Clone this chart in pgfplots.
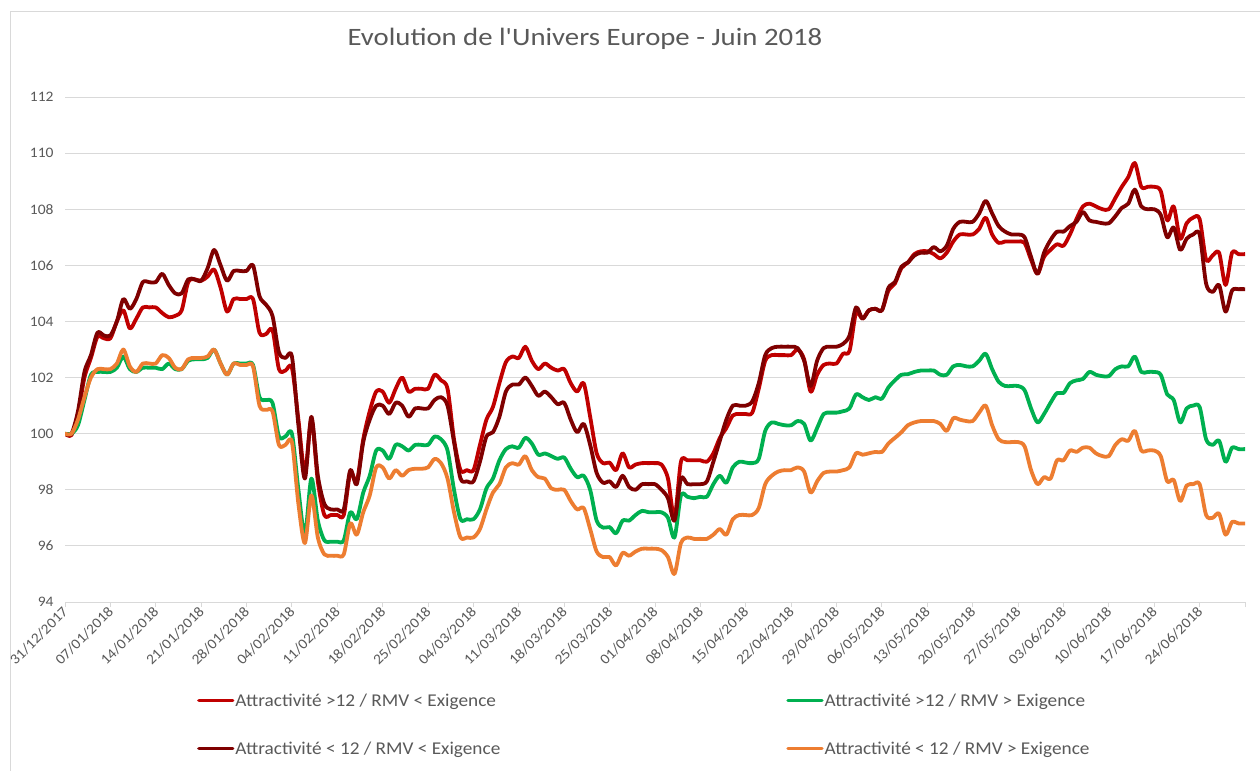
\documentclass[border=0pt]{standalone}
\usepackage{pgfplots}
\pgfplotsset{compat=1.18}
\usepackage{pgfplotstable}
\usepackage{fontspec}
\setmainfont{Carlito}
\newfontfamily\titfont{Carlito}[FakeStretch=1.15]
\newfontfamily\legfont{Carlito}[FakeStretch=1.07]
\definecolor{cR}{HTML}{C00000}
\definecolor{cG}{HTML}{00B050}
\definecolor{cD}{HTML}{7F0000}
\definecolor{cO}{HTML}{ED7D31}
\definecolor{txt}{HTML}{595959}
\definecolor{grd}{HTML}{D9D9D9}

\pgfplotstableread{
d R G D O
0 100 100 100 100
1 99.95 100 100 100
2 100.7 100.3 100.8 100.5
3 102.0 101.2 102.2 101.3
4 102.7 102.1 102.8 102.0
5 103.45 102.2 103.6 102.3
6 103.4 102.2 103.5 102.3
7 103.4 102.2 103.5 102.3
8 104.0 102.35 104.0 102.5
9 104.4 102.75 104.8 103.0
10 103.75 102.3 104.45 102.4
11 104.1 102.2 104.8 102.2
12 104.5 102.35 105.4 102.5
13 104.5 102.35 105.4 102.5
14 104.5 102.35 105.4 102.5
15 104.3 102.3 105.7 102.8
16 104.15 102.5 105.3 102.7
17 104.2 102.3 105.0 102.35
18 104.4 102.3 105.0 102.3
19 105.4 102.6 105.5 102.65
20 105.5 102.65 105.5 102.7
21 105.45 102.65 105.45 102.7
22 105.6 102.7 105.9 102.75
23 105.85 103.0 106.55 103.0
24 105.2 102.5 106.0 102.5
25 104.35 102.1 105.45 102.1
26 104.8 102.5 105.8 102.5
27 104.8 102.5 105.8 102.45
28 104.8 102.5 105.8 102.45
29 104.8 102.45 106.0 102.4
30 103.6 101.3 104.9 101.0
31 103.55 101.2 104.6 100.85
32 103.7 101.1 104.2 100.8
33 102.3 99.9 102.9 99.6
34 102.25 99.9 102.7 99.6
35 102.35 100.0 102.75 99.7
36 100.5 98.0 100.3 97.5
37 98.6 96.4 98.4 96.1
38 100.5 98.4 100.6 97.8
39 98.3 96.9 98.5 96.3
40 97.1 96.2 97.5 95.7
41 97.1 96.15 97.3 95.65
42 97.1 96.15 97.3 95.65
43 97.1 96.2 97.3 95.7
44 98.6 97.2 98.7 96.8
45 98.3 96.95 98.2 96.4
46 99.8 97.9 99.7 97.2
47 100.8 98.5 100.5 97.8
48 101.5 99.4 101.0 98.8
49 101.5 99.4 101.0 98.8
50 101.1 99.1 100.7 98.4
51 101.6 99.6 101.1 98.7
52 102.0 99.55 101.0 98.5
53 101.5 99.4 100.6 98.7
54 101.6 99.6 100.9 98.75
55 101.6 99.6 100.9 98.75
56 101.6 99.6 100.9 98.8
57 102.1 99.9 101.2 99.1
58 101.9 99.8 101.3 98.95
59 101.6 99.4 101.0 98.4
60 99.8 98.0 99.7 97.2
61 98.7 96.95 98.4 96.3
62 98.7 96.95 98.3 96.3
63 98.7 96.95 98.3 96.3
64 99.6 97.3 99.0 96.6
65 100.5 98.05 99.9 97.3
66 100.95 98.4 100.05 97.9
67 101.8 99.05 100.6 98.2
68 102.55 99.45 101.5 98.8
69 102.75 99.55 101.75 98.95
70 102.7 99.5 101.75 98.9
71 103.1 99.85 102.0 99.2
72 102.6 99.65 101.7 98.7
73 102.3 99.25 101.35 98.45
74 102.5 99.3 101.5 98.4
75 102.35 99.2 101.3 98.05
76 102.25 99.1 101.05 98.0
77 102.3 99.15 101.1 98.0
78 101.8 98.75 100.5 97.6
79 101.5 98.45 100.05 97.3
80 101.8 98.5 100.35 97.35
81 100.6 98.0 99.6 96.6
82 99.3 96.9 98.6 95.8
83 98.95 96.65 98.25 95.6
84 98.97 96.67 98.3 95.6
85 98.7 96.45 98.1 95.3
86 99.3 96.9 98.5 95.75
87 98.8 96.9 98.1 95.65
88 98.9 97.1 98.0 95.8
89 98.95 97.25 98.2 95.9
90 98.95 97.2 98.2 95.9
91 98.95 97.2 98.2 95.9
92 98.9 97.2 98.0 95.85
93 98.4 97.0 97.7 95.6
94 97.0 96.3 96.9 95.0
95 99.0 97.8 98.4 96.1
96 99.05 97.75 98.2 96.3
97 99.05 97.7 98.2 96.25
98 99.05 97.75 98.2 96.25
99 99.0 97.75 98.3 96.25
100 99.3 98.2 99.0 96.4
101 99.85 98.5 99.75 96.6
102 100.2 98.25 100.5 96.4
103 100.65 98.8 101.0 96.95
104 100.7 99.0 101.0 97.1
105 100.7 98.97 101.0 97.1
106 100.75 98.95 101.15 97.1
107 101.6 99.1 101.8 97.35
108 102.6 100.1 102.8 98.2
109 102.8 100.4 103.05 98.5
110 102.8 100.35 103.1 98.65
111 102.8 100.3 103.1 98.7
112 102.8 100.3 103.1 98.7
113 103.0 100.45 103.05 98.8
114 102.65 100.35 102.6 98.65
115 101.5 99.75 101.7 97.9
116 102.1 100.2 102.6 98.3
117 102.45 100.7 103.05 98.6
118 102.5 100.75 103.1 98.65
119 102.5 100.75 103.1 98.65
120 102.85 100.8 103.2 98.7
121 102.95 100.9 103.5 98.8
122 104.3 101.4 104.5 99.3
123 104.1 101.3 104.1 99.25
124 104.4 101.2 104.4 99.3
125 104.45 101.3 104.45 99.35
126 104.4 101.25 104.4 99.35
127 105.1 101.65 105.2 99.65
128 105.35 101.9 105.4 99.85
129 105.9 102.1 105.95 100.05
130 106.1 102.12 106.1 100.3
131 106.4 102.2 106.35 100.4
132 106.5 102.25 106.45 100.45
133 106.5 102.25 106.45 100.45
134 106.4 102.25 106.65 100.45
135 106.25 102.1 106.5 100.35
136 106.45 102.1 106.7 100.1
137 106.85 102.4 107.3 100.55
138 107.1 102.45 107.55 100.5
139 107.1 102.4 107.55 100.45
140 107.1 102.4 107.55 100.45
141 107.3 102.6 107.85 100.75
142 107.7 102.85 108.3 101.0
143 107.1 102.3 107.85 100.3
144 106.8 101.85 107.4 99.8
145 106.85 101.7 107.2 99.7
146 106.85 101.7 107.1 99.7
147 106.85 101.7 107.1 99.7
148 106.8 101.55 107.0 99.55
149 106.2 100.9 106.3 98.7
150 105.7 100.4 105.7 98.2
151 106.3 100.7 106.45 98.45
152 106.55 101.1 106.9 98.4
153 106.75 101.45 107.2 99.05
154 106.7 101.45 107.2 99.05
155 107.1 101.8 107.4 99.4
156 107.65 101.9 107.55 99.35
157 108.1 101.95 107.9 99.5
158 108.2 102.2 107.6 99.5
159 108.1 102.1 107.55 99.3
160 108.0 102.05 107.5 99.2
161 108.0 102.05 107.5 99.2
162 108.4 102.3 107.75 99.6
163 108.8 102.4 108.05 99.8
164 109.15 102.4 108.2 99.75
165 109.65 102.75 108.7 100.1
166 108.8 102.2 108.1 99.4
167 108.8 102.2 108.0 99.4
168 108.8 102.2 108.0 99.4
169 108.65 102.1 107.8 99.2
170 107.6 101.4 107.0 98.3
171 108.1 101.2 107.35 98.35
172 106.95 100.4 106.55 97.6
173 107.5 100.9 106.95 98.15
174 107.7 101.0 107.1 98.2
175 107.65 100.95 107.1 98.2
176 106.2 99.8 105.35 97.1
177 106.35 99.6 105.05 97.0
178 106.45 99.75 105.3 97.15
179 105.3 99.0 104.35 96.4
180 106.45 99.5 105.1 96.85
181 106.4 99.45 105.15 96.8
182 106.4 99.45 105.15 96.8
}\data

\begin{document}
\begin{tikzpicture}
\useasboundingbox (0bp,0bp) rectangle (1260bp,-771bp);
\fill[white] (0bp,0bp) rectangle (1260bp,-771bp);
\draw[grd, line width=1bp] (10bp,-771bp) -- (10bp,-11bp) -- (1260bp,-11bp);
\node[text=txt, font=\titfont\fontsize{25bp}{30bp}\selectfont] at (585bp,-38.5bp) {Evolution de l'Univers Europe - Juin 2018};
\begin{axis}[
  at={(65bp,-602bp)}, anchor=south west,
  scale only axis, width=1180bp, height=505bp,
  xmin=0, xmax=182, ymin=94, ymax=112,
  axis line style={draw=none},
  ymajorgrids, grid style={grd, line width=1bp},
  ytick={94,96,...,112},
  xtick={0,7,...,175},
  xticklabels={31/12/2017,07/01/2018,14/01/2018,21/01/2018,28/01/2018,04/02/2018,11/02/2018,18/02/2018,25/02/2018,04/03/2018,11/03/2018,18/03/2018,25/03/2018,01/04/2018,08/04/2018,15/04/2018,22/04/2018,29/04/2018,06/05/2018,13/05/2018,20/05/2018,27/05/2018,03/06/2018,10/06/2018,17/06/2018,24/06/2018},
  extra x ticks={182}, extra x tick labels={},
  xtick pos=bottom, tick align=outside, major tick length=5bp,
  xtick style={grd, line width=1bp},
  ytick style={draw=none},
  /pgf/number format/assume math mode=true,
  ticklabel style={text=txt, font=\legfont\fontsize{14.5bp}{17bp}\selectfont},
  yticklabel style={xshift=-3bp},
  xticklabel style={rotate=45, anchor=east, yshift=-2bp, xshift=2bp},
  legend columns=2,
  legend cell align=left,
  legend image code/.code={\draw[#1, line width=3.3bp] (0bp,0bp) -- (34bp,0bp);},
  legend style={at={(0.1093,-0.173)}, anchor=north west, draw=none, fill=none,
    font=\legfont\fontsize{18bp}{21bp}\selectfont, text=txt, row sep=30bp,
    nodes={inner xsep=1bp, inner ysep=2bp},
    /tikz/every even column/.append style={column sep=285bp}},
  every axis plot/.append style={line width=3.8bp, smooth, tension=0.5, line join=round, line cap=round},
]
\addplot[cR] table[x=d,y=R]{\data};
\addlegendentry{Attractivité >12 / RMV < Exigence}
\addplot[cG] table[x=d,y=G]{\data};
\addlegendentry{Attractivité >12 / RMV > Exigence}
\addplot[cD] table[x=d,y=D]{\data};
\addlegendentry{Attractivité < 12 / RMV < Exigence}
\addplot[cO] table[x=d,y=O]{\data};
\addlegendentry{Attractivité < 12 / RMV > Exigence}
\end{axis}
\end{tikzpicture}
\end{document}
